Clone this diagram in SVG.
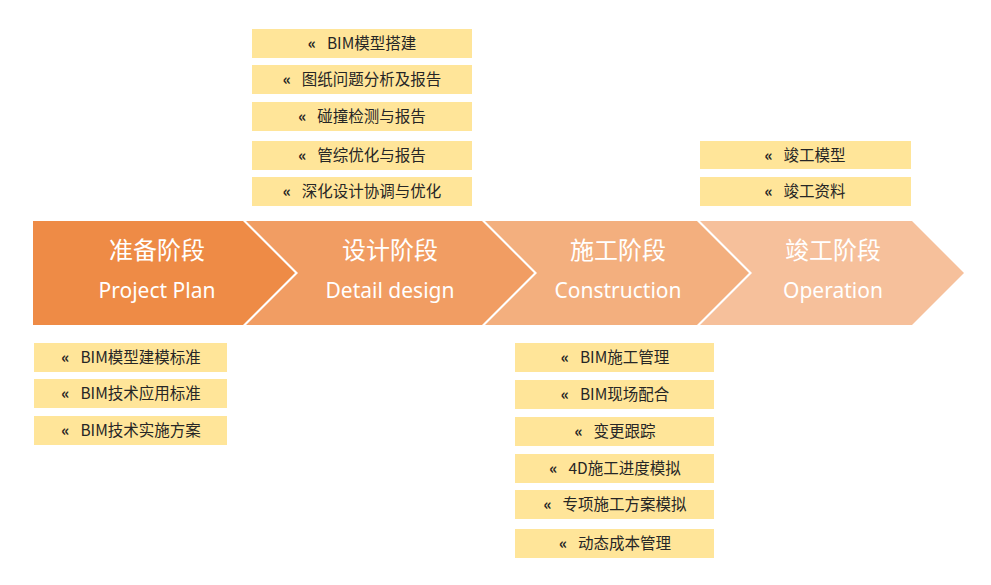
<svg xmlns="http://www.w3.org/2000/svg" width="991" height="585" viewBox="0 0 991 585">
<style>
.t1{font-family:"Noto Sans CJK SC","Noto Sans",sans-serif;font-size:24px;fill:#fff;text-anchor:middle}
.t2{font-family:"Noto Sans","Noto Sans CJK SC",sans-serif;font-size:21px;fill:#fff;text-anchor:middle}
.box{fill:#FFE599}
.bt{font-family:"Noto Sans CJK SC","Noto Sans",sans-serif;font-size:15.5px;fill:#262626;text-anchor:middle}
.q{font-weight:bold}
</style>
<rect width="991" height="585" fill="#fff"/>
<g id="stage1">
<polygon points="33,221 243,221 295,273 243,325 33,325" fill="#EE8B46"/>
<text class="t1" x="157" y="259">准备阶段</text>
<text class="t2" x="157" y="298">Project Plan</text>
</g>
<g id="stage2">
<polygon points="246,221 482,221 534,273 482,325 246,325 298,273" fill="#F19D63"/>
<text class="t1" x="390" y="259">设计阶段</text>
<text class="t2" x="390" y="298">Detail design</text>
</g>
<g id="stage3">
<polygon points="485,221 697,221 749,273 697,325 485,325 537,273" fill="#F3AF7E"/>
<text class="t1" x="618" y="259">施工阶段</text>
<text class="t2" x="618" y="298">Construction</text>
</g>
<g id="stage4">
<polygon points="700,221 912,221 964,273 912,325 700,325 752,273" fill="#F6C09B"/>
<text class="t1" x="833" y="259">竣工阶段</text>
<text class="t2" x="833" y="298">Operation</text>
</g>
<g id="connectors"></g>
<g id="design-items">
<rect class="box" x="252" y="29" width="220" height="29"/>
<text class="bt" x="362" y="49"><tspan class="q">«</tspan><tspan dx="11">BIM模型搭建</tspan></text>
<rect class="box" x="252" y="65" width="220" height="29"/>
<text class="bt" x="362" y="85"><tspan class="q">«</tspan><tspan dx="11">图纸问题分析及报告</tspan></text>
<rect class="box" x="252" y="102" width="220" height="29"/>
<text class="bt" x="362" y="122"><tspan class="q">«</tspan><tspan dx="11">碰撞检测与报告</tspan></text>
<rect class="box" x="252" y="141" width="220" height="29"/>
<text class="bt" x="362" y="161"><tspan class="q">«</tspan><tspan dx="11">管综优化与报告</tspan></text>
<rect class="box" x="252" y="177" width="220" height="29"/>
<text class="bt" x="362" y="197"><tspan class="q">«</tspan><tspan dx="11">深化设计协调与优化</tspan></text>
</g>
<g id="operation-items">
<rect class="box" x="700" y="141" width="211" height="28"/>
<text class="bt" x="805" y="161"><tspan class="q">«</tspan><tspan dx="11">竣工模型</tspan></text>
<rect class="box" x="700" y="177" width="211" height="29"/>
<text class="bt" x="805" y="197"><tspan class="q">«</tspan><tspan dx="11">竣工资料</tspan></text>
</g>
<g id="plan-items">
<rect class="box" x="34" y="343" width="193" height="29"/>
<text class="bt" x="131" y="363"><tspan class="q">«</tspan><tspan dx="11">BIM模型建模标准</tspan></text>
<rect class="box" x="34" y="379" width="193" height="29"/>
<text class="bt" x="131" y="399"><tspan class="q">«</tspan><tspan dx="11">BIM技术应用标准</tspan></text>
<rect class="box" x="34" y="416" width="193" height="29"/>
<text class="bt" x="131" y="436"><tspan class="q">«</tspan><tspan dx="11">BIM技术实施方案</tspan></text>
</g>
<g id="construction-items">
<rect class="box" x="515" y="343" width="199" height="29"/>
<text class="bt" x="615" y="363"><tspan class="q">«</tspan><tspan dx="11">BIM施工管理</tspan></text>
<rect class="box" x="515" y="380" width="199" height="29"/>
<text class="bt" x="615" y="400"><tspan class="q">«</tspan><tspan dx="11">BIM现场配合</tspan></text>
<rect class="box" x="515" y="417" width="199" height="29"/>
<text class="bt" x="615" y="437"><tspan class="q">«</tspan><tspan dx="11">变更跟踪</tspan></text>
<rect class="box" x="515" y="454" width="199" height="29"/>
<text class="bt" x="615" y="474"><tspan class="q">«</tspan><tspan dx="11">4D施工进度模拟</tspan></text>
<rect class="box" x="515" y="490" width="199" height="29"/>
<text class="bt" x="615" y="510"><tspan class="q">«</tspan><tspan dx="11">专项施工方案模拟</tspan></text>
<rect class="box" x="515" y="529" width="199" height="29"/>
<text class="bt" x="615" y="549"><tspan class="q">«</tspan><tspan dx="11">动态成本管理</tspan></text>
</g>
</svg>
